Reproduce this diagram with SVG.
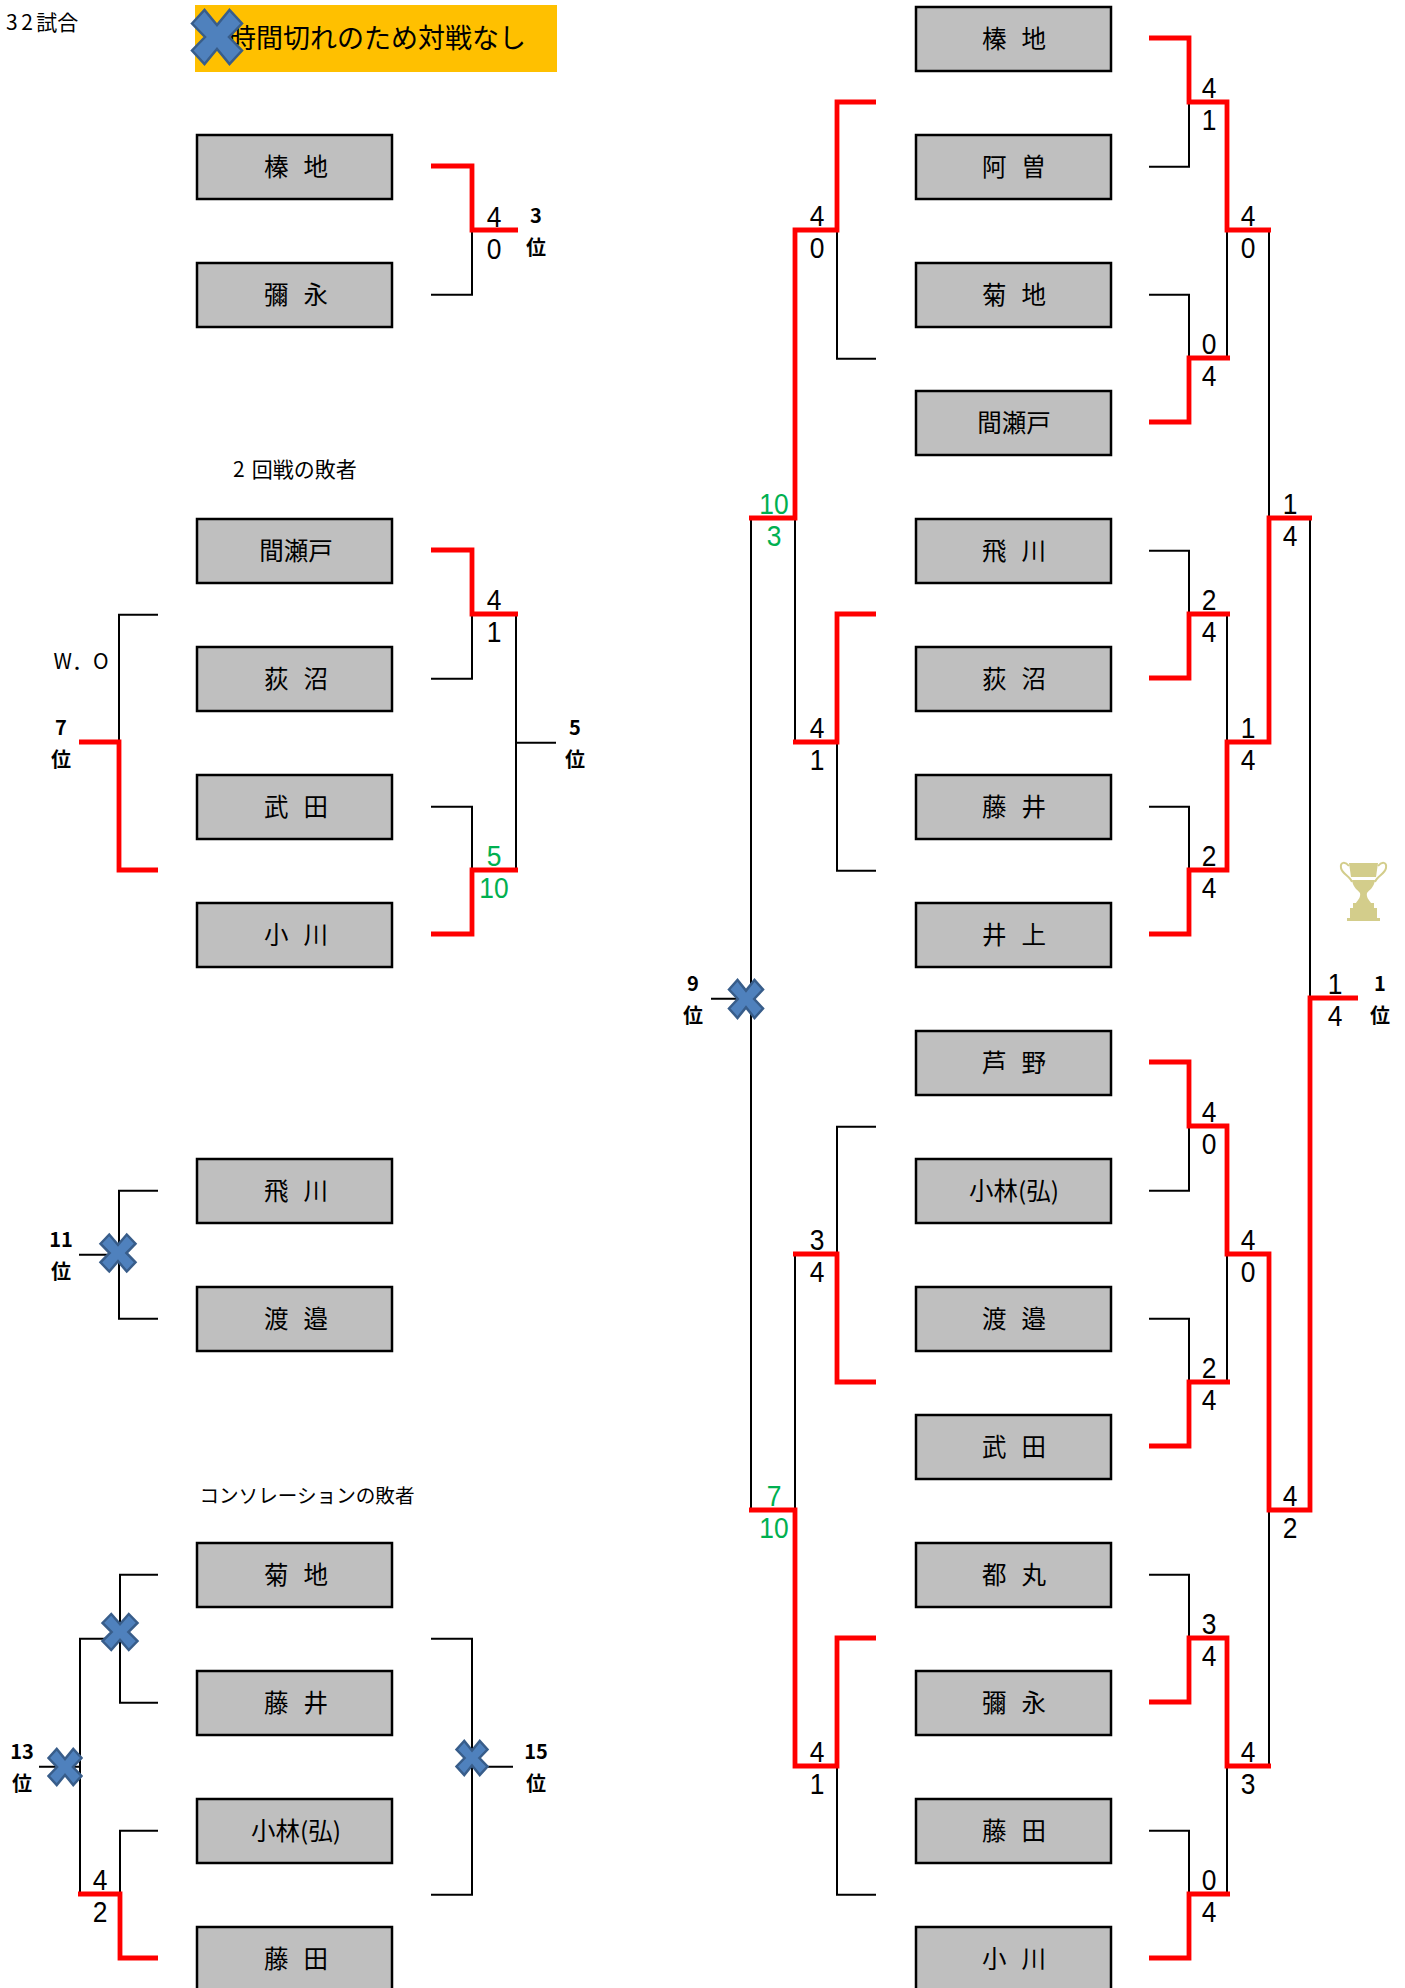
<svg xmlns="http://www.w3.org/2000/svg" width="1405" height="1988" viewBox="0 0 1405 1988">
<style>
text{font-family:"Noto Sans CJK JP","Liberation Sans",sans-serif;fill:#000}
.box{fill:#BFBFBF;stroke:#000;stroke-width:2.5;width:195px;height:64px}
.name{font-size:24.5px;text-anchor:middle;dominant-baseline:central;word-spacing:9.5px;transform:translate(1px,-1px)}
.b{fill:none;stroke:#000;stroke-width:2}
.r{fill:none;stroke:#F00;stroke-width:4.8}
.s{font-family:"Liberation Sans",sans-serif;font-size:30px;text-anchor:middle;dominant-baseline:central;transform-box:fill-box;transform-origin:center;transform:scaleX(.88)}
.g{fill:#00B050}
.rank{font-size:20px;font-weight:700;text-anchor:middle;dominant-baseline:central;transform:translateY(-1px)}
.note{font-size:21px}
.x{fill:#4F81BD;stroke:#385D8A;stroke-width:2.5;vector-effect:non-scaling-stroke}
</style>
<defs>
<path id="xm" class="x" d="M-50,-25 L-25,-50 L0,-22 L25,-50 L50,-25 L24,0 L50,25 L25,50 L0,22 L-25,50 L-50,25 L-24,0 Z"/>
</defs>
<rect id="banner" x="195" y="5" width="362" height="67" fill="#FFC000"/>
<text x="229" y="48" font-size="27">時間切れのため対戦なし</text>
<text x="6" y="30" font-size="21"><tspan letter-spacing="3.5">32</tspan>試合</text>
<text x="233" y="477" class="note"><tspan letter-spacing="7">2</tspan>回戦の敗者</text>
<text x="307" y="1503" font-size="19.6" text-anchor="middle">コンソレーションの敗者</text>
<text x="81" y="669" font-size="21" text-anchor="middle">W．O</text>
<g id="connectors">
<g class="black" transform="translate(0,.7)">
<path class="b" d="M431,294H472V230"/>
<path class="b" d="M431,678H472V614M431,806H472V870M516,614V870M516,742H556"/>
<path class="b" d="M158,614H119V742"/>
<path class="b" d="M158,1190H119V1318H158M79,1254H119"/>
<path class="b" d="M158,1574H120V1702H158M120,1638H80V1894M158,1830H120V1894M39,1766H80"/>
<path class="b" d="M431,1638H472V1894H431M472,1766H513"/>
<path class="b" d="M1149,166H1189V102M1149,294H1189V358M1227,358V230M1269,230V518M1149,550H1189V614M1149,806H1189V870M1227,614V742M1310,518V998M1149,1190H1189V1126M1149,1318H1189V1382M1227,1382V1254M1269,1510V1766M1149,1574H1189V1638M1149,1830H1189V1894M1227,1894V1766"/>
<path class="b" d="M876,358H837V230M876,870H837V742M795,518V742M751,518V1510M711,998H751M876,1126H837V1254M795,1254V1510M876,1894H837V1766"/>
</g>
<g class="red">
<path class="r" d="M431,166H472V230H518"/>
<path class="r" d="M431,550H472V614H518"/>
<path class="r" d="M431,934H472V870H518"/>
<path class="r" d="M79,742H119V870H158"/>
<path class="r" d="M78,1894H120V1958H158"/>
<path class="r" d="M1149,38H1189V102H1227V230H1271"/>
<path class="r" d="M1149,422H1189V358H1230"/>
<path class="r" d="M1149,678H1189V614H1230"/>
<path class="r" d="M1149,934H1189V870H1227V742H1269V518H1312"/>
<path class="r" d="M1149,1062H1189V1126H1227V1254H1269V1510H1310V998H1358"/>
<path class="r" d="M1149,1446H1189V1382H1230"/>
<path class="r" d="M1149,1702H1189V1638H1227V1766H1271"/>
<path class="r" d="M1149,1958H1189V1894H1230"/>
<path class="r" d="M876,102H837V230H795V518H749"/>
<path class="r" d="M876,614H837V742H793"/>
<path class="r" d="M876,1382H837V1254H793"/>
<path class="r" d="M749,1510H795V1766H837V1638H876"/>
</g>
</g>
<g id="left-nodes">
<g id="l1"><rect class="box" x="197" y="135"/><text class="name" x="295" y="166">榛 地</text></g>
<g id="l2"><rect class="box" x="197" y="263"/><text class="name" x="295" y="294">彌 永</text></g>
<g id="l3"><rect class="box" x="197" y="519"/><text class="name" x="295" y="550">間瀬戸</text></g>
<g id="l4"><rect class="box" x="197" y="647"/><text class="name" x="295" y="678">荻 沼</text></g>
<g id="l5"><rect class="box" x="197" y="775"/><text class="name" x="295" y="806">武 田</text></g>
<g id="l6"><rect class="box" x="197" y="903"/><text class="name" x="295" y="934">小 川</text></g>
<g id="l7"><rect class="box" x="197" y="1159"/><text class="name" x="295" y="1190">飛 川</text></g>
<g id="l8"><rect class="box" x="197" y="1287"/><text class="name" x="295" y="1318">渡 邉</text></g>
<g id="l9"><rect class="box" x="197" y="1543"/><text class="name" x="295" y="1574">菊 地</text></g>
<g id="l10"><rect class="box" x="197" y="1671"/><text class="name" x="295" y="1702">藤 井</text></g>
<g id="l11"><rect class="box" x="197" y="1799"/><text class="name" x="295" y="1830">小林(弘)</text></g>
<g id="l12"><rect class="box" x="197" y="1927"/><text class="name" x="295" y="1958">藤 田</text></g>
</g>
<g id="right-nodes">
<g id="r1"><rect class="box" x="916" y="7"/><text class="name" x="1013" y="38">榛 地</text></g>
<g id="r2"><rect class="box" x="916" y="135"/><text class="name" x="1013" y="166">阿 曽</text></g>
<g id="r3"><rect class="box" x="916" y="263"/><text class="name" x="1013" y="294">菊 地</text></g>
<g id="r4"><rect class="box" x="916" y="391"/><text class="name" x="1013" y="422">間瀬戸</text></g>
<g id="r5"><rect class="box" x="916" y="519"/><text class="name" x="1013" y="550">飛 川</text></g>
<g id="r6"><rect class="box" x="916" y="647"/><text class="name" x="1013" y="678">荻 沼</text></g>
<g id="r7"><rect class="box" x="916" y="775"/><text class="name" x="1013" y="806">藤 井</text></g>
<g id="r8"><rect class="box" x="916" y="903"/><text class="name" x="1013" y="934">井 上</text></g>
<g id="r9"><rect class="box" x="916" y="1031"/><text class="name" x="1013" y="1062">芦 野</text></g>
<g id="r10"><rect class="box" x="916" y="1159"/><text class="name" x="1013" y="1190">小林(弘)</text></g>
<g id="r11"><rect class="box" x="916" y="1287"/><text class="name" x="1013" y="1318">渡 邉</text></g>
<g id="r12"><rect class="box" x="916" y="1415"/><text class="name" x="1013" y="1446">武 田</text></g>
<g id="r13"><rect class="box" x="916" y="1543"/><text class="name" x="1013" y="1574">都 丸</text></g>
<g id="r14"><rect class="box" x="916" y="1671"/><text class="name" x="1013" y="1702">彌 永</text></g>
<g id="r15"><rect class="box" x="916" y="1799"/><text class="name" x="1013" y="1830">藤 田</text></g>
<g id="r16"><rect class="box" x="916" y="1927"/><text class="name" x="1013" y="1958">小 川</text></g>
</g>
<g id="scores">
<text class="s" x="494" y="216">4</text><text class="s" x="494" y="248">0</text>
<text class="s" x="494" y="599">4</text><text class="s" x="494" y="631">1</text>
<text class="s g" x="494" y="855">5</text><text class="s g" x="494" y="887">10</text>
<text class="s" x="100" y="1879">4</text><text class="s" x="100" y="1911">2</text>
<text class="s" x="1209" y="87">4</text><text class="s" x="1209" y="119">1</text>
<text class="s" x="1209" y="343">0</text><text class="s" x="1209" y="375">4</text>
<text class="s" x="1209" y="599">2</text><text class="s" x="1209" y="631">4</text>
<text class="s" x="1209" y="855">2</text><text class="s" x="1209" y="887">4</text>
<text class="s" x="1209" y="1111">4</text><text class="s" x="1209" y="1143">0</text>
<text class="s" x="1209" y="1367">2</text><text class="s" x="1209" y="1399">4</text>
<text class="s" x="1209" y="1623">3</text><text class="s" x="1209" y="1655">4</text>
<text class="s" x="1209" y="1879">0</text><text class="s" x="1209" y="1911">4</text>
<text class="s" x="1248" y="215">4</text><text class="s" x="1248" y="247">0</text>
<text class="s" x="1248" y="727">1</text><text class="s" x="1248" y="759">4</text>
<text class="s" x="1248" y="1239">4</text><text class="s" x="1248" y="1271">0</text>
<text class="s" x="1248" y="1751">4</text><text class="s" x="1248" y="1783">3</text>
<text class="s" x="1290" y="503">1</text><text class="s" x="1290" y="535">4</text>
<text class="s" x="1290" y="1495">4</text><text class="s" x="1290" y="1527">2</text>
<text class="s" x="1335" y="983">1</text><text class="s" x="1335" y="1015">4</text>
<text class="s" x="817" y="215">4</text><text class="s" x="817" y="247">0</text>
<text class="s" x="817" y="727">4</text><text class="s" x="817" y="759">1</text>
<text class="s" x="817" y="1239">3</text><text class="s" x="817" y="1271">4</text>
<text class="s" x="817" y="1751">4</text><text class="s" x="817" y="1783">1</text>
<text class="s g" x="774" y="503">10</text><text class="s g" x="774" y="535">3</text>
<text class="s g" x="774" y="1495">7</text><text class="s g" x="774" y="1527">10</text>
</g>
<g id="ranks">
<text class="rank" x="536" y="215">3</text><text class="rank" x="536" y="247">位</text>
<text class="rank" x="61" y="727">7</text><text class="rank" x="61" y="759">位</text>
<text class="rank" x="575" y="727">5</text><text class="rank" x="575" y="759">位</text>
<text class="rank" x="61" y="1239">11</text><text class="rank" x="61" y="1271">位</text>
<text class="rank" x="22" y="1751">13</text><text class="rank" x="22" y="1783">位</text>
<text class="rank" x="536" y="1751">15</text><text class="rank" x="536" y="1783">位</text>
<text class="rank" x="693" y="983">9</text><text class="rank" x="693" y="1015">位</text>
<text class="rank" x="1380" y="983">1</text><text class="rank" x="1380" y="1015">位</text>
</g>
<g id="marks">
<use href="#xm" transform="translate(217,37) scale(.5,.54)"/>
<use href="#xm" transform="translate(746,999) scale(.34,.38)"/>
<use href="#xm" transform="translate(118,1253) scale(.35,.37)"/>
<use href="#xm" transform="translate(120,1632) scale(.35,.36)"/>
<use href="#xm" transform="translate(65,1767) scale(.33,.36)"/>
<use href="#xm" transform="translate(472,1758) scale(.31,.34)"/>
</g>
<g id="trophy" fill="#D3CD8B">
<path d="M1349,863H1378L1376,877H1351Z"/>
<path d="M1352,880H1375C1374,888 1369,890 1367,893C1366,897 1369,900 1371,903H1374V908H1377V918H1380V921H1347V918H1350V908H1353V903H1356C1358,900 1361,897 1360,893C1358,890 1353,888 1352,880Z"/>
<path d="M1349,866C1345,861 1340,862 1341,868C1342,874 1350,876 1352,882" fill="none" stroke="#D3CD8B" stroke-width="2"/>
<path d="M1378,866C1382,861 1387,862 1386,868C1385,874 1377,876 1375,882" fill="none" stroke="#D3CD8B" stroke-width="2"/>
</g>
</svg>
